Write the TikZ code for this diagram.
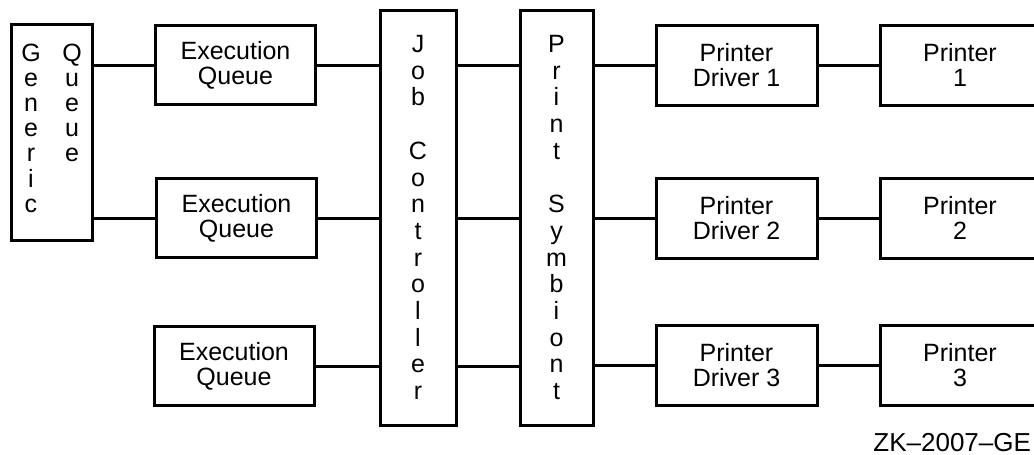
\documentclass[tikz,border=0pt]{standalone}
\usepackage{fontspec}
\setmainfont{Liberation Sans}
\usepackage{tikz}
\usetikzlibrary{positioning}
\tikzstyle{unit}=[rectangle, draw=black, line width=1.5pt, inner sep=0pt, align=center, font=\fontsize{12.5}{12.5}\selectfont]
\tikzstyle{pillar}=[unit, minimum height=207.5pt, font=\fontsize{12.5}{13.35}\selectfont]
\tikzstyle{link}=[line width=1.5pt]

\begin{document}
\begin{tikzpicture}[x=0.5pt, y=-0.5pt]
  \useasboundingbox (0,0) rectangle (1034,455);

  \node[unit, minimum width=40.5pt, minimum height=108pt] (gen) at (51.5,132)
    {\begin{tabular}{@{}c@{\hspace{10.8pt}}c@{}}
      G & Q\\ e & u\\ n & e\\ e & u\\ r & e\\ i & \\ c &
     \end{tabular}};

  \node[unit, minimum width=80pt, minimum height=39.5pt] (ex1) at (235.5,65) {Execution\\Queue};
  \node[unit, minimum width=80pt, minimum height=39.5pt] (ex2) at (236.5,218) {Execution\\Queue};
  \node[unit, minimum width=80pt, minimum height=39.5pt] (ex3) at (234,366) {Execution\\Queue};

  \node[pillar, minimum width=38pt] (job) at (418,217.5)
    {J\\o\\b\\\strut\\C\\o\\n\\t\\r\\o\\l\\l\\e\\r};
  \node[pillar, minimum width=36.5pt] (sym) at (556.5,217.5)
    {P\\r\\i\\n\\t\\\strut\\S\\y\\m\\b\\i\\o\\n\\t};

  \node[unit, minimum width=80.5pt, minimum height=40pt] (dr1) at (736.5,65) {Printer\\Driver 1};
  \node[unit, minimum width=80.5pt, minimum height=40pt] (dr2) at (736.5,218) {Printer\\Driver 2};
  \node[unit, minimum width=80.5pt, minimum height=40pt] (dr3) at (736.5,365) {Printer\\Driver 3};

  \node[unit, minimum width=80pt, minimum height=40pt] (pr1) at (960,65) {Printer\\1};
  \node[unit, minimum width=80pt, minimum height=40pt] (pr2) at (960,218) {Printer\\2};
  \node[unit, minimum width=80pt, minimum height=40pt] (pr3) at (960,365) {Printer\\3};

  \node[anchor=west, inner sep=0pt, font=\fontsize{13}{13}\selectfont] (tag) at (873,443) {ZK–2007–GE};

  % connections
  \draw[link] (gen.east |- ex1) -- (ex1.west);
  \draw[link] (gen.east |- ex2) -- (ex2.west);
  \foreach \r in {1,2,3} {
    \draw[link] (ex\r.east) -- (job.west |- ex\r);
    \draw[link] (job.east |- ex\r) -- (sym.west |- ex\r);
    \draw[link] (sym.east |- dr\r) -- (dr\r.west);
    \draw[link] (dr\r.east) -- (pr\r.west);
  }
\end{tikzpicture}
\end{document}
